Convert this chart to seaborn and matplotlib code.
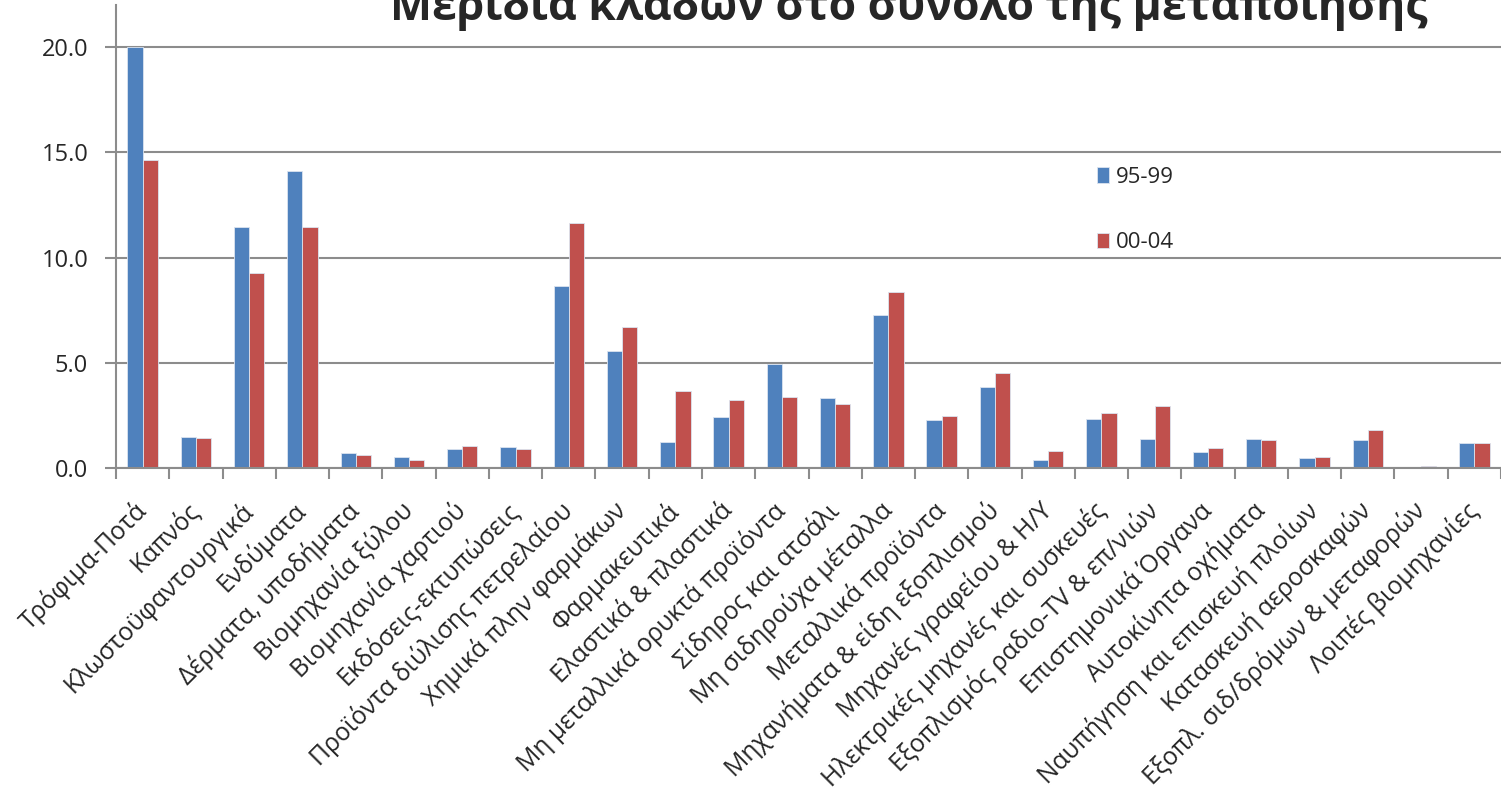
import matplotlib
matplotlib.use('Agg')
import matplotlib.pyplot as plt
import seaborn as sns
import pandas as pd
import numpy as np
from matplotlib.ticker import FixedLocator

# sectors (x axis categories)
categories = [
    'Τρόφιμα-Ποτά', 'Καπνός', 'Κλωστοϋφαντουργικά', 'Ενδύματα',
    'Δέρματα, υποδήματα', 'Βιομηχανία ξύλου', 'Βιομηχανία χαρτιού',
    'Εκδόσεις-εκτυπώσεις', 'Προϊόντα διύλισης πετρελαίου',
    'Χημικά πλην φαρμάκων', 'Φαρμακευτικά', 'Ελαστικά & πλαστικά',
    'Μη μεταλλικά ορυκτά προϊόντα', 'Σίδηρος και ατσάλι',
    'Μη σιδηρούχα μέταλλα', 'Μεταλλικά προϊόντα',
    'Μηχανήματα & είδη εξοπλισμού', 'Μηχανές γραφείου & Η/Υ',
    'Ηλεκτρικές μηχανές και συσκευές', 'Εξοπλισμός ραδιο-TV & επ/νιών',
    'Επιστημονικά Όργανα', 'Αυτοκίνητα οχήματα',
    'Ναυπήγηση και επισκευή πλοίων', 'Κατασκευή αεροσκαφών',
    'Εξοπλ. σιδ/δρόμων & μεταφορών', 'Λοιπές βιομηχανίες',
]

share_95_99 = [20.0, 1.49, 11.45, 14.1, 0.73, 0.51, 0.92, 0.98, 8.65, 5.56,
               1.24, 2.42, 4.93, 3.34, 7.25, 2.26, 3.86, 0.39, 2.33, 1.36,
               0.78, 1.36, 0.46, 1.31, 0.06, 1.20]
share_00_04 = [14.63, 1.43, 9.26, 11.45, 0.62, 0.36, 1.05, 0.90, 11.64, 6.70,
               3.66, 3.21, 3.36, 3.02, 8.38, 2.45, 4.53, 0.79, 2.61, 2.95,
               0.95, 1.31, 0.51, 1.82, 0.10, 1.20]

periods = ['95-99', '00-04']
colors = ['#4F81BD', '#C0504D']
yticks = [0, 5, 10, 15, 20]

df = pd.DataFrame({
    'sector': categories * 2,
    'period': [periods[0]] * len(categories) + [periods[1]] * len(categories),
    'share': share_95_99 + share_00_04,
})

sns.set_style('white')
plt.rcParams['font.family'] = ['Open Sans', 'DejaVu Sans']

fig = plt.figure(figsize=(15.01, 7.96), dpi=100)
ax = fig.add_axes([116 / 1501, 1 - 468 / 796, 1 - 116 / 1501, 463 / 796])

sns.barplot(data=df, x='sector', y='share', hue='period', order=categories,
            hue_order=periods, palette=colors, width=0.57, saturation=1,
            edgecolor='#dbe4f0', linewidth=0.6, ax=ax, legend=True)

ax.set_xlim(-0.5, len(categories) - 0.5)
ax.set_ylim(0, 22)
ax.set_yticks(yticks)
ax.set_yticklabels([f'{v:.1f}' for v in yticks], fontsize=17)
ax.yaxis.grid(True, color='#8c8c8c', linewidth=1.5)
ax.set_axisbelow(True)
ax.set_xlabel('')
ax.set_ylabel('')

for side in ['top', 'right']:
    ax.spines[side].set_visible(False)
for side in ['left', 'bottom']:
    ax.spines[side].set_color('#8c8c8c')
    ax.spines[side].set_linewidth(1.5)

# labels at centres, tick marks at category boundaries
ax.set_xticks(range(len(categories)))
ax.set_xticklabels(categories, rotation=45, ha='right', va='center',
                   rotation_mode='anchor', fontsize=17.8)
ax.tick_params(axis='x', which='major', length=0, pad=28)
ax.xaxis.set_minor_locator(FixedLocator(np.arange(-0.5, len(categories), 1.0)))
ax.tick_params(axis='x', which='minor', length=8, width=1.5, color='#8c8c8c',
               direction='out', bottom=True)
ax.tick_params(axis='y', length=8, width=1.5, color='#8c8c8c', direction='out',
               left=True, pad=12)

ax.legend(loc='upper left', bbox_to_anchor=(1097 / 1501, 1 - 167 / 796),
          bbox_transform=fig.transFigure, frameon=False, fontsize=16,
          handlelength=0.55, handleheight=0.7, handletextpad=0.3,
          labelspacing=2.0, borderpad=0, borderaxespad=0)

fig.text(909 / 1501, 1 - 20 / 796, 'Μερίδια κλάδων στο σύνολο της μεταποίησης',
         ha='center', va='baseline', fontsize=32, fontweight='bold')

fig.savefig('out.png', dpi=100)
plt.close(fig)
